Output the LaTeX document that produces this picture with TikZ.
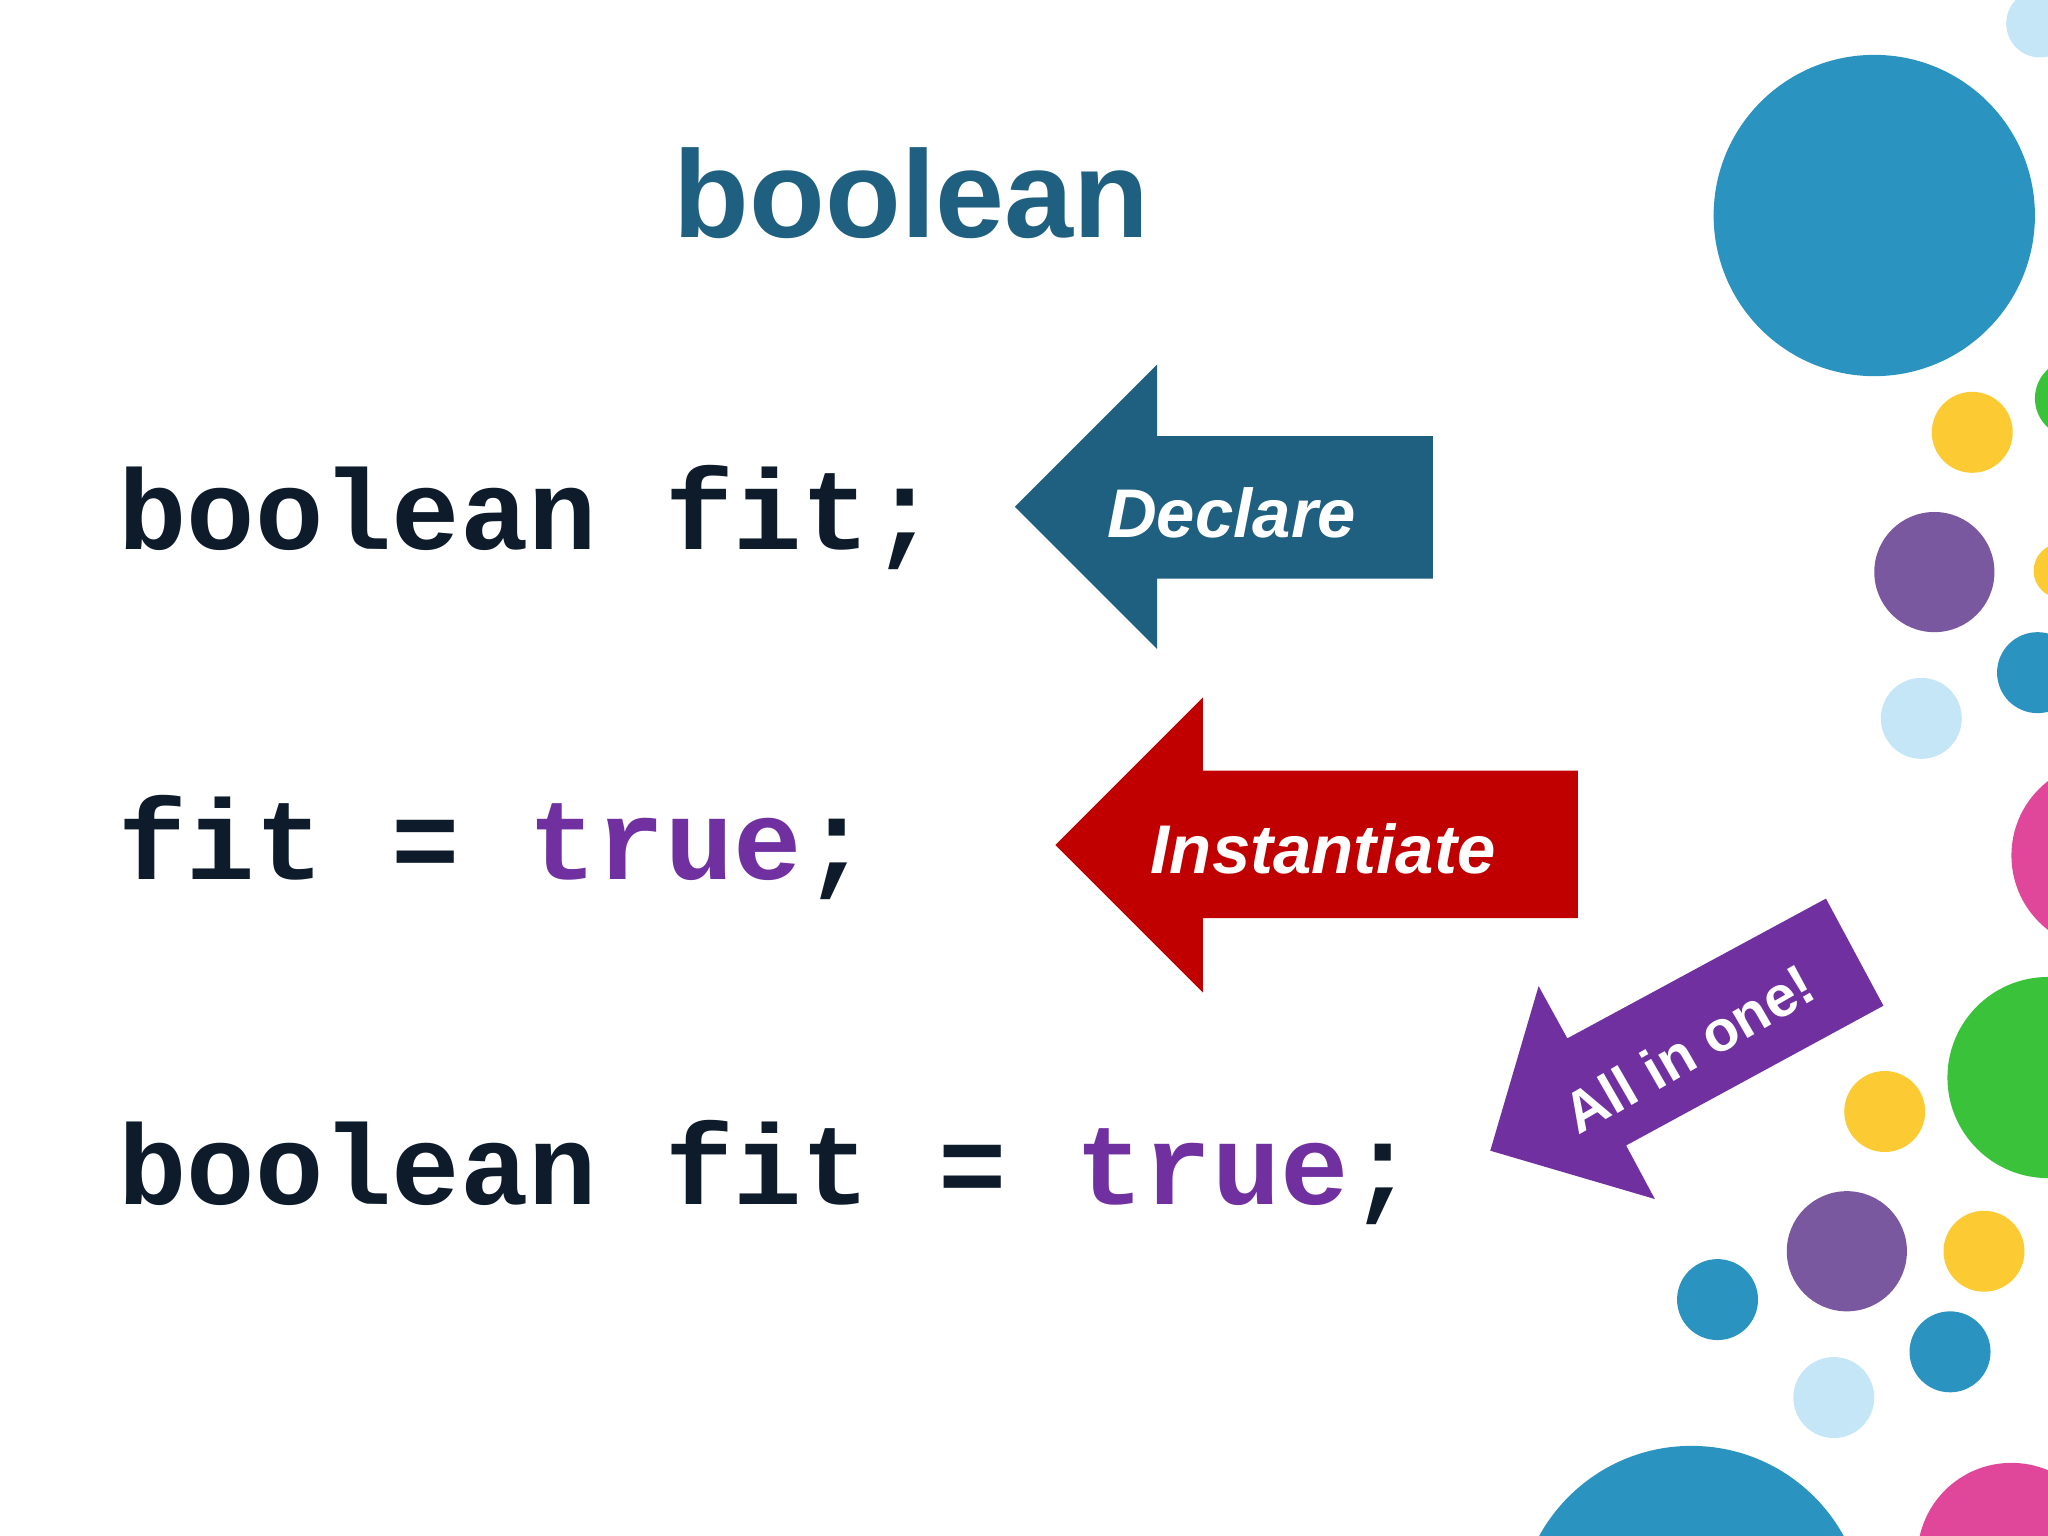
\documentclass[tikz,border=0pt]{standalone}
\usepackage{fontspec}
\setmainfont{Liberation Sans}
\setmonofont{Liberation Mono}
\definecolor{teal}{HTML}{1F5F7F}
\definecolor{redA}{HTML}{C00000}
\definecolor{purp}{HTML}{7030A0}
\definecolor{codec}{HTML}{0D1B2A}
\definecolor{cblue}{HTML}{2A93C0}
\definecolor{clight}{HTML}{C5E6F7}
\definecolor{cyel}{HTML}{FCCB33}
\definecolor{cpur}{HTML}{7A58A0}
\definecolor{cpink}{HTML}{E0479A}
\definecolor{cgreen}{HTML}{3AC33A}
\tikzset{
  code/.style={anchor=base west,inner sep=0pt,text=codec,font=\ttfamily\bfseries\fontsize{24.8}{28}\selectfont},
  tag/.style={text=white,font=\bfseries\itshape\fontsize{15}{18}\selectfont,inner sep=0pt}
}
\begin{document}
\begin{tikzpicture}[x=0.01cm,y=-0.01cm]
\useasboundingbox (0,0) rectangle (1568,1176);
\begin{scope}
\clip (0,0) rectangle (1568,1176);
% circles on the right
\foreach \x/\y/\r/\c in {1435/165/123/cblue,1562/18/26/clight,1510/331/31/cyel,1588/305/30/cgreen,
  1481/438/46/cpur,1578/437/21/cyel,1560/515/31/cblue,1471/550/31/clight,1612/655/72/cpink,
  1568/825/77/cgreen,1443/851/31/cyel,1414/958/46/cpur,1519/958/31/cyel,1315/995/31/cblue,
  1493/1035/31/cblue,1404/1070/31/clight,1295/1240/133/cblue,1540/1192/72/cpink}
  \fill[\c] (\x,\y) circle (\r);
\end{scope}
% title
\node[text=teal,font=\bfseries\fontsize{27}{32}\selectfont] (title) at (698,148) {boolean};
% code lines
\node[code] (decl) at (90,421) {boolean fit;};
\node[code] (inst) at (90,673) {fit = \textcolor{purp}{true};};
\node[code] (both) at (90,922) {boolean fit = \textcolor{purp}{true};};
% arrows
\fill[teal] (777,388) -- (886,279) -- (886,334) -- (1097,334) -- (1097,443) -- (886,443) -- (886,497) -- cycle;
\node[tag] (declare) at (943,393) {Declare};
\fill[redA] (808,647) -- (921,534) -- (921,590) -- (1208,590) -- (1208,703) -- (921,703) -- (921,760) -- cycle;
\node[tag] (instantiate) at (1013,650) {Instantiate};
\fill[purp] (1141,881) -- (1178,755) -- (1200,795) -- (1398,688) -- (1442,770) -- (1245,877) -- (1267,918) -- cycle;
\node[tag,rotate=30,font=\bfseries\fontsize{12.5}{15}\selectfont] (allinone) at (1293,803) {All in one!};
\end{tikzpicture}
\end{document}
